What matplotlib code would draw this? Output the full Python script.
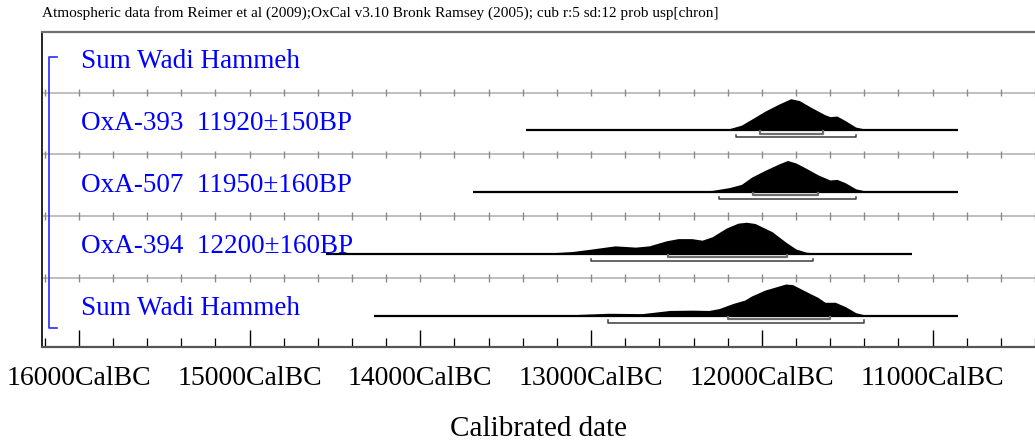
import matplotlib.pyplot as plt
import matplotlib.transforms as mtransforms
import numpy as np

plt.rcParams["font.family"] = ["Liberation Serif", "DejaVu Serif"]

title = ("Atmospheric data from Reimer et al (2009);OxCal v3.10 Bronk Ramsey (2005); "
         "cub r:5 sd:12 prob usp[chron]")

# rows from bottom to top; the top row only carries the group name
row_labels = [
    "Sum Wadi Hammeh",
    "OxA-394  12200\u00b1160BP",
    "OxA-507  11950\u00b1160BP",
    "OxA-393  11920\u00b1150BP",
    "Sum Wadi Hammeh",
]

# probability profiles (years cal BC, relative probability)
sum_years = [13600, 13190, 12900, 12700, 12540, 12410, 12310, 12250, 12170, 12100, 12060,
             11980, 11860, 11820, 11740, 11670, 11630, 11570, 11510, 11450, 11390, 11320]
sum_prob = [0.0, 0.01, 0.07, 0.06, 0.16, 0.17, 0.16, 0.22, 0.38, 0.49, 0.62,
            0.81, 1.0, 0.98, 0.76, 0.57, 0.42, 0.42, 0.28, 0.09, 0.01, 0.0]

oxa394_years = [13450, 13300, 13110, 13010, 12860, 12740, 12660, 12560, 12490, 12410, 12350,
                12290, 12210, 12140, 12090, 12040, 11940, 11860, 11800, 11740, 11650, 11550]
oxa394_prob = [0.0, 0.01, 0.07, 0.14, 0.25, 0.21, 0.25, 0.41, 0.48, 0.48, 0.43,
               0.54, 0.81, 0.97, 1.0, 0.96, 0.70, 0.37, 0.15, 0.05, 0.01, 0.0]

oxa507_years = [12600, 12490, 12290, 12190, 12120, 12060, 11980, 11900, 11850, 11800,
                11740, 11670, 11600, 11560, 11510, 11450, 11390, 11320]
oxa507_prob = [0.0, 0.01, 0.05, 0.14, 0.24, 0.47, 0.69, 0.89, 1.0, 0.92,
               0.75, 0.54, 0.38, 0.40, 0.29, 0.10, 0.03, 0.0]

oxa393_years = [12400, 12250, 12190, 12120, 12060, 11980, 11900, 11830, 11780, 11710,
                11630, 11600, 11560, 11510, 11450, 11390, 11320]
oxa393_prob = [0.0, 0.01, 0.05, 0.16, 0.35, 0.61, 0.83, 1.0, 0.94, 0.72,
               0.49, 0.43, 0.45, 0.30, 0.10, 0.03, 0.0]

profile_years = [sum_years, oxa394_years, oxa507_years, oxa393_years]
profile_prob = [sum_prob, oxa394_prob, oxa507_prob, oxa393_prob]

# extent of each calibrated curve
curve_start = [14270, 14550, 13690, 13380]
curve_end = [10850, 11120, 10850, 10850]

# 68.2% and 95.4% ranges (cal BC)
range68 = [(12200, 11600), (12550, 11850), (12050, 11670), (12010, 11640)]
range95 = [(12900, 11400), (13000, 11700), (12250, 11450), (12150, 11450)]

tick_labels = ["16000CalBC", "15000CalBC", "14000CalBC",
               "13000CalBC", "12000CalBC", "11000CalBC"]
major_years = [16000, 15000, 14000, 13000, 12000, 11000]

fig = plt.figure(figsize=(10.35, 4.45), dpi=100)
ax = fig.add_axes([42 / 1035, 98 / 445, 993 / 1035, 315 / 445])

x_left, x_right = 16216, 10409
ax.set_xlim(x_left, x_right)
ax.set_ylim(-0.12, 4.98)

base_off = 0.39
peak_h = 0.51

minor_years = np.arange(16200, 10399, -200)

# row separators with small ticks
for k in range(1, 5):
    ax.axhline(k, color="#b4b4b4", lw=1.2, zorder=1)
    ax.vlines(minor_years, k - 0.06, k + 0.06, color="#8a8a8a", lw=1, zorder=1)

for k in range(4):
    base = k + base_off
    yrs = np.array(profile_years[k])
    prob = np.array(profile_prob[k])
    ax.plot([curve_start[k], curve_end[k]], [base, base], color="black", lw=1.6,
            solid_capstyle="butt", zorder=3)
    ax.fill_between(yrs, base, base + prob * peak_h, color="black", lw=0, zorder=3)

    for (a, b), dy, col, lw in [(range68[k], 0.055, "#6e6e6e", 1.6),
                                (range95[k], 0.115, "#3c3c3c", 1.1)]:
        y = base - dy
        ax.plot([a, a, b, b], [y + 0.035, y, y, y + 0.035], color=col, lw=lw, zorder=3)

for k, label in enumerate(row_labels):
    ax.text(15985, k + 0.395, label, color="#0000ff", fontsize=19.5,
            va="baseline", ha="left", zorder=4)

# blue group bracket
trans = mtransforms.blended_transform_factory(ax.transAxes, ax.transData)
bx0, bx1 = 0.0066, 0.0148
ax.plot([bx1, bx0, bx0, bx1], [4.58, 4.58, 0.19, 0.19], color="#2a2aff", lw=1.2,
        transform=trans, zorder=4)

ax.set_xticks(major_years)
ax.set_xticklabels(tick_labels)
ax.set_xticks(minor_years, minor=True)
ax.tick_params(axis="x", which="major", direction="in", length=12.5, width=1,
               labelsize=20, pad=14, color="black")
ax.tick_params(axis="x", which="minor", direction="in", length=6.5, width=0.9,
               color="black")
ax.set_yticks([])

ax.spines["right"].set_visible(False)
ax.spines["top"].set_color("#707070")
ax.spines["top"].set_linewidth(1.6)
ax.spines["left"].set_color("black")
ax.spines["left"].set_linewidth(1.2)
ax.spines["bottom"].set_color("#555555")
ax.spines["bottom"].set_linewidth(1.6)

ax.set_xlabel("Calibrated date", fontsize=21, labelpad=18)
fig.text(42 / 1035, 1 - 13 / 445, title, fontsize=11, va="center", ha="left")

fig.savefig("out.png", dpi=100)
